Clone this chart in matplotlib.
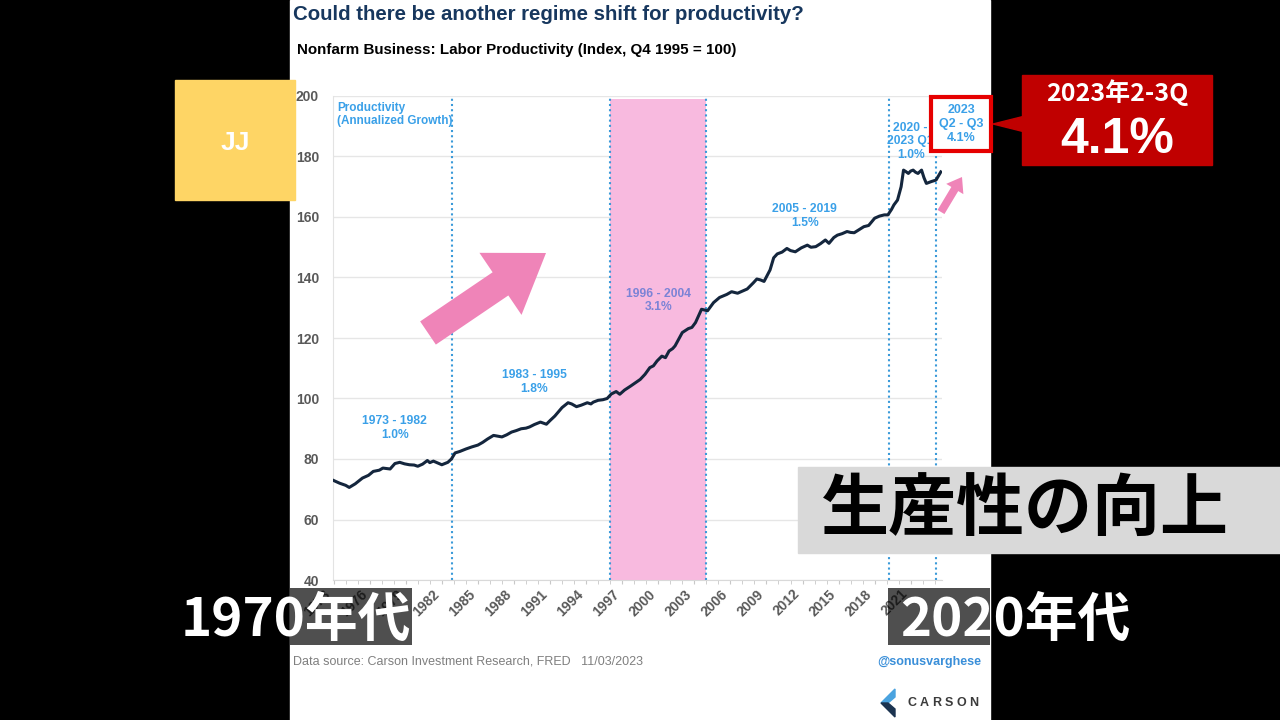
import numpy as np
import matplotlib.pyplot as plt
from matplotlib.patches import Rectangle, Polygon, FancyArrow

plt.rcParams['font.family'] = ['Liberation Sans', 'Noto Sans CJK JP', 'DejaVu Sans']

# labor productivity index, Q4 1995 = 100
years = [1973.0, 1973.5, 1974.0, 1974.3, 1974.8, 1975.4, 1975.9, 1976.3, 1976.8, 1977.1,
         1977.7, 1978.1, 1978.5, 1978.9, 1979.3, 1979.7, 1980.0, 1980.4, 1980.8, 1981.0,
         1981.3, 1981.7, 1982.0, 1982.5, 1982.8, 1983.1, 1983.5, 1984.0, 1984.5, 1985.0,
         1985.4, 1985.8, 1986.3, 1987.0, 1987.4, 1987.8, 1988.2, 1988.6, 1989.0, 1989.3,
         1989.7, 1990.2, 1990.7, 1991.0, 1991.4, 1992.0, 1992.5, 1992.8, 1993.2, 1993.6,
         1994.1, 1994.4, 1994.6, 1995.0, 1995.4, 1995.75, 1996.1, 1996.5, 1996.8, 1997.2,
         1997.7, 1998.1, 1998.5, 1998.9, 1999.3, 1999.6, 1999.9, 2000.3, 2000.6, 2000.9,
         2001.2, 2001.4, 2002.0, 2002.5, 2002.8, 2003.1, 2003.6, 2004.1, 2004.6, 2005.1,
         2005.7, 2006.1, 2006.6, 2007.0, 2007.4, 2007.9, 2008.2, 2008.5, 2008.8, 2009.3,
         2009.6, 2009.9, 2010.3, 2010.7, 2011.0, 2011.4, 2011.9, 2012.4, 2012.7, 2013.1,
         2013.5, 2013.9, 2014.2, 2014.6, 2014.9, 2015.3, 2015.7, 2016.0, 2016.3, 2016.7,
         2017.1, 2017.5, 2018.0, 2018.4, 2018.8, 2019.1, 2019.4, 2019.6, 2019.9, 2020.2,
         2020.4, 2020.6, 2020.8, 2021.0, 2021.2, 2021.4, 2021.6, 2021.9, 2022.1, 2022.3,
         2022.7, 2023.1, 2023.5]
index = [72.9, 72.0, 71.3, 70.6, 71.8, 73.7, 74.6, 75.9, 76.3, 77.0,
         76.7, 78.5, 78.9, 78.4, 78.1, 78.0, 77.6, 78.3, 79.5, 78.8,
         79.3, 78.6, 78.1, 78.9, 80.0, 82.0, 82.5, 83.3, 84.0, 84.6,
         85.5, 86.6, 87.8, 87.3, 88.0, 88.9, 89.4, 90.0, 90.2, 90.6,
         91.4, 92.2, 91.5, 92.7, 94.2, 97.0, 98.6, 98.2, 97.3, 97.8,
         98.6, 98.2, 98.8, 99.4, 99.6, 100.0, 101.5, 102.3, 101.4, 102.8,
         104.1, 105.2, 106.3, 108.0, 110.2, 110.8, 112.4, 114.0, 113.5, 115.7,
         116.5, 117.4, 121.8, 123.1, 123.5, 125.1, 129.5, 129.0, 131.7, 133.4,
         134.4, 135.3, 134.8, 135.5, 136.2, 138.2, 139.5, 139.2, 138.7, 142.5,
         146.5, 147.8, 148.4, 149.6, 148.9, 148.5, 149.8, 150.7, 150.0, 150.2,
         151.2, 152.4, 151.3, 153.2, 154.0, 154.5, 155.2, 154.9, 154.8, 155.8,
         156.8, 157.2, 159.6, 160.3, 160.7, 160.7, 162.5, 164.0, 165.6, 170.0,
         175.5, 175.0, 174.4, 175.2, 175.5, 174.8, 174.4, 175.5, 173.0, 171.1,
         171.7, 172.2, 174.9]

era_lines = [1982.85, 1996.0, 2004.0, 2019.2, 2023.1]
boom_span = [1996.0, 2004.0]
era_text = ['1973 - 1982\n1.0%', '1983 - 1995\n1.8%', '1996 - 2004\n3.1%',
            '2005 - 2019\n1.5%', '2020 -\n2023 Q1\n1.0%']
era_x = [1978.1, 1989.7, 2000.0, 2012.2, 2021.0]
era_y = [90.3, 105.5, 132.5, 160.3, 185.0]
tick_years = list(range(1973, 2022, 3))
y_ticks = list(range(40, 201, 20))

W, H = 1280, 720
fig = plt.figure(figsize=(12.8, 7.2), dpi=100, facecolor='black')


def px_axes(z):
    a = fig.add_axes([0, 0, 1, 1], zorder=z)
    a.set_xlim(0, W)
    a.set_ylim(H, 0)
    a.axis('off')
    return a


# background panel with titles and footer
bg = px_axes(0)
bg.add_patch(Rectangle((290, 0), 700, 720, color='white'))
bg.text(293, 15, 'Could there be another regime shift for productivity?', fontsize=14.7,
        fontweight='bold', color='#17375E', va='center')
bg.text(297, 50, 'Nonfarm Business: Labor Productivity (Index, Q4 1995 = 100)', fontsize=10.9,
        fontweight='bold', color='black', va='center')
bg.text(293, 662, 'Data source: Carson Investment Research, FRED   11/03/2023', fontsize=9,
        color='#7F7F7F', va='center')
bg.text(981, 662, '@sonusvarghese', fontsize=9, fontweight='bold', color='#3A8FD9',
        va='center', ha='right')
bg.add_patch(Polygon([(895, 689), (895, 697), (888, 703), (881, 703)], color='#4AA3DF'))
bg.add_patch(Polygon([(881, 703), (888, 703), (895, 709), (895, 717)], color='#1B3350'))
for i, ch in enumerate('CARSON'):
    bg.text(912 + i * 12.4, 703, ch, fontsize=9, fontweight='bold', color='#3B3B3B',
            ha='center', va='center')

# main chart
ax = fig.add_axes([333 / W, 1 - 580 / H, 609 / W, 484 / H], zorder=1)
ax.fill_between(boom_span, 40, 199, color='#F8BADF', zorder=1, lw=0)
for x in era_lines:
    ax.axvline(x, color='#3A9AD9', ls=(0, (1, 1.5)), lw=1.5, zorder=2)
ax.plot(years, index, color='#14263D', lw=2.2, zorder=3)

ax.text(1973.3, 198, 'Productivity\n(Annualized Growth)', fontsize=8.5, fontweight='bold',
        color='#3AA0E8', va='top', ha='left', linespacing=1.1)
for i, (t, x, y) in enumerate(zip(era_text, era_x, era_y)):
    c = '#7B83D6' if i == 2 else '#3AA0E8'
    ax.text(x, y, t, fontsize=8.7, fontweight='bold', color=c, ha='center', va='center',
            linespacing=1.15, zorder=4)

ax.set_xlim(1972.95, 2023.6)
ax.set_ylim(40, 200)
ax.set_yticks(y_ticks)
ax.set_xticks(tick_years)
ax.set_xticks(range(1973, 2024), minor=True)
ax.set_xticklabels([str(y) for y in tick_years], rotation=45, ha='right')
ax.tick_params(axis='both', colors='#595959', labelsize=10, length=0)
ax.tick_params(axis='x', which='both', length=3, color='#C8C8C8', pad=2)
for lab in ax.get_xticklabels() + ax.get_yticklabels():
    lab.set_fontweight('bold')
ax.tick_params(axis='y', pad=10)
ax.yaxis.grid(True, color='#E6E6E6', lw=1, zorder=0)
ax.set_axisbelow(True)
for s in ['top', 'right']:
    ax.spines[s].set_visible(False)
ax.spines['left'].set_color('#E3E3E3')
ax.spines['bottom'].set_color('#D9D9D9')

# video overlays
ov = px_axes(2)
ov.add_patch(Rectangle((175, 80), 120, 120, color='#FED565'))
ov.text(235, 143, 'JJ', fontsize=19, fontweight='bold', color='white', ha='center', va='center')

ov.add_patch(FancyArrow(428, 333, 118, -80, width=28, head_width=75, head_length=55,
                        length_includes_head=True, color='#EF84B8', lw=0))
ov.add_patch(FancyArrow(941, 212, 21, -35, width=8, head_width=20, head_length=14,
                        length_includes_head=True, color='#EF84B8', lw=0))

ov.add_patch(Rectangle((931, 97), 60, 54, facecolor='white', edgecolor='#E60000', lw=3))
ov.text(961, 124, '2023\nQ2 - Q3\n4.1%', fontsize=9, fontweight='bold', color='#3AA0E8',
        ha='center', va='center', linespacing=1.2)
ov.add_patch(Polygon([(993, 124), (1025, 116), (1025, 132)], color='#C00000'))
ov.add_patch(Rectangle((1022, 75), 190, 90, color='#C00000'))
ov.text(1117, 93, '2023年2-3Q', fontsize=18, fontweight='bold', color='white',
        ha='center', va='center', family=['Noto Sans CJK JP', 'DejaVu Sans'])
ov.text(1117, 140, '4.1%', fontsize=36, fontweight='bold', color='white',
        ha='center', va='center')

ov.add_patch(Rectangle((798, 467), 482, 86, color='#D9D9D9'))
ov.text(1025, 510, '生産性の向上', fontsize=49, fontweight='bold', color='black',
        ha='center', va='center', family=['Noto Sans CJK JP', 'DejaVu Sans'])

ov.add_patch(Rectangle((290, 588), 122, 57, color='black', alpha=0.69, lw=0))
ov.add_patch(Rectangle((888, 588), 102, 57, color='black', alpha=0.69, lw=0))
ov.text(296, 620, '1970年代', fontsize=38, fontweight='bold', color='white',
        ha='center', va='center', family=['Noto Sans CJK JP', 'DejaVu Sans'])
ov.text(1015, 620, '2020年代', fontsize=38, fontweight='bold', color='white',
        ha='center', va='center', family=['Noto Sans CJK JP', 'DejaVu Sans'])

fig.savefig('out.png', dpi=100, facecolor='black')
